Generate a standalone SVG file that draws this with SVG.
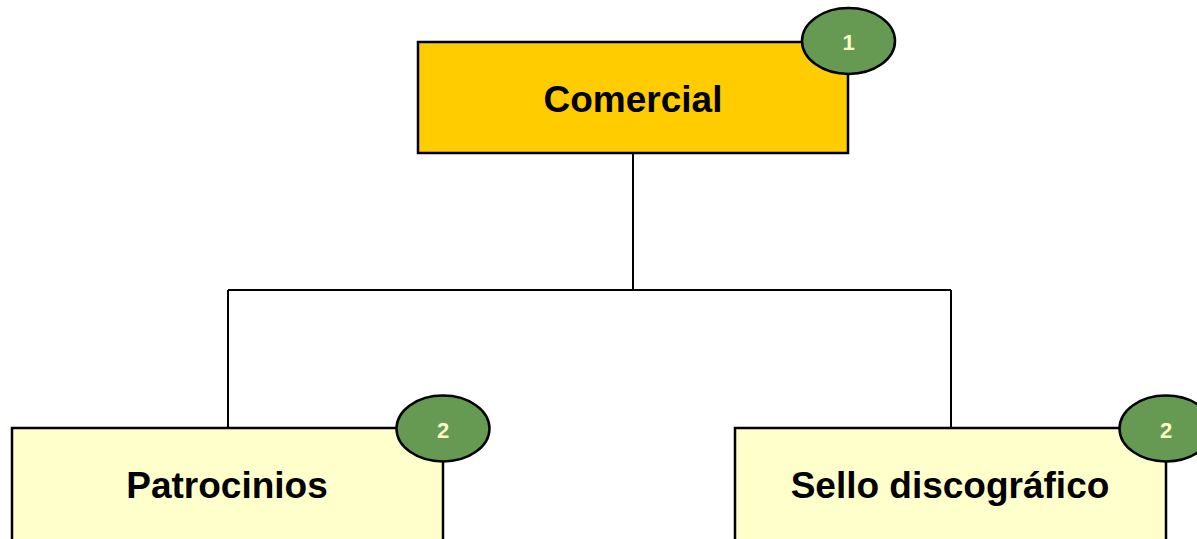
<svg xmlns="http://www.w3.org/2000/svg" width="1197" height="539" viewBox="0 0 1197 539">
<style>
.box{stroke:#000;stroke-width:2.5}
.top{fill:#FFCC00}
.sub{fill:#FFFFCC}
.badge{fill:#669952;stroke:#000;stroke-width:2.5}
.lbl{font-family:"Liberation Sans",Arial,sans-serif;font-weight:bold;font-size:37px;fill:#000;text-anchor:middle}
.num{font-family:"Liberation Sans",Arial,sans-serif;font-weight:bold;font-size:22px;fill:#FFFFCC;text-anchor:middle}
.conn{fill:none;stroke:#000;stroke-width:2}
</style>
<rect width="1197" height="539" fill="#fff"/>
<g id="connectors">
<path class="conn" d="M633,153 V290 M228,290 H951 M228,290 V428 M951,290 V428"/>
</g>
<g id="comercial">
<rect class="box top" x="418" y="42" width="430" height="111"/>
<text class="lbl" x="633" y="112">Comercial</text>
<ellipse class="badge" cx="848.5" cy="41" rx="46.5" ry="33"/>
<text class="num" x="848.5" y="50">1</text>
</g>
<g id="patrocinios">
<rect class="box sub" x="12" y="428" width="431" height="130"/>
<text class="lbl" x="227" y="498">Patrocinios</text>
<ellipse class="badge" cx="443" cy="428.5" rx="46.5" ry="33"/>
<text class="num" x="443" y="438">2</text>
</g>
<g id="sello">
<rect class="box sub" x="735" y="428" width="431" height="130"/>
<text class="lbl" x="950" y="498">Sello discográfico</text>
<ellipse class="badge" cx="1166" cy="428.5" rx="46.5" ry="33"/>
<text class="num" x="1166" y="438">2</text>
</g>
</svg>
